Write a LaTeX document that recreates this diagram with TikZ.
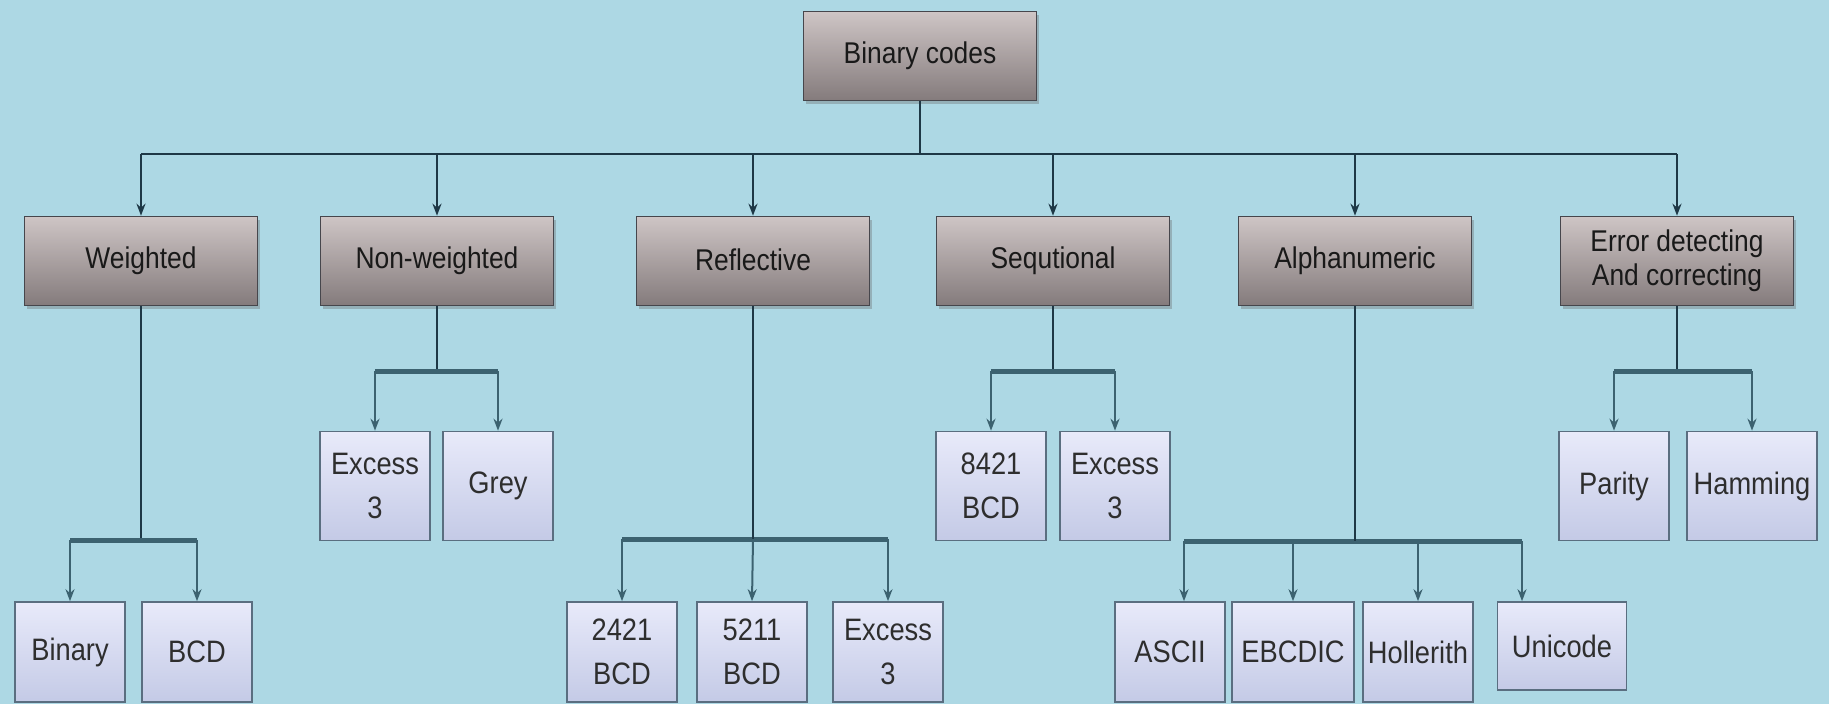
\documentclass[tikz,border=0pt]{standalone}
\usepackage{fontspec}
\setmainfont{Liberation Sans}[FakeStretch=0.88]
\usetikzlibrary{arrows.meta,shadows}

\definecolor{bgblue}{RGB}{173,216,228}
\definecolor{catTop}{RGB}{206,197,197}
\definecolor{catBot}{RGB}{132,123,124}
\definecolor{catLine}{RGB}{70,70,76}
\definecolor{leafTop}{RGB}{232,234,250}
\definecolor{leafBot}{RGB}{196,202,230}
\definecolor{leafLine}{RGB}{90,110,128}
\definecolor{busCol}{RGB}{30,56,70}
\definecolor{subCol}{RGB}{60,98,112}

\tikzset{
  catbox/.style={draw=catLine, line width=1.6pt, top color=catTop, bottom color=catBot,
    minimum width=233pt, minimum height=89pt, inner sep=2pt, align=center,
    font=\fontsize{30}{36}\selectfont, text=black!90,
    drop shadow={shadow xshift=2pt, shadow yshift=-3pt, fill=black!60, opacity=.35}},
  leafbox/.style={draw=leafLine, line width=1.6pt, top color=leafTop, bottom color=leafBot,
    minimum width=110pt, minimum height=100pt, inner sep=1pt, align=center,
    font=\fontsize{31}{44}\selectfont, text=black!82},
  midleaf/.style={leafbox, minimum height=109pt},
  busline/.style={draw=busCol, line width=2.4pt},
  subbus/.style={draw=subCol, line width=5pt},
  drop/.style={draw=busCol, line width=2pt, -{Stealth[length=12pt,width=9pt]}},
  subdrop/.style={draw=subCol, line width=2pt, -{Stealth[length=12pt,width=9pt]}}
}

\begin{document}
\begin{tikzpicture}[x=1pt,y=-1pt]
\fill[bgblue] (0,0) rectangle (1829,704);
\useasboundingbox (0,0) rectangle (1829,704);

% top level
\node (root) at (920,56) [catbox] {Binary codes};
\coordinate (busL) at (141,154);
\coordinate (busR) at (1677,154);
\draw[busline] (root.south) -- (root.south |- busL);
\draw[busline] (busL) -- (busR);

% code families
\node (wt) at (141,261) [catbox] {Weighted};
\node (nw) at (437,261) [catbox] {Non-weighted};
\node (rf) at (753,261) [catbox, text depth=0.25em] {Reflective};
\node (sq) at (1053,261) [catbox] {Sequtional};
\node (al) at (1355,261) [catbox] {Alphanumeric};
\node (er) at (1677,261) [catbox, font=\fontsize{30}{34}\selectfont] {Error detecting\\And correcting};
\foreach \n in {wt,nw,rf,sq,al,er}
  \draw[drop] (\n |- busL) -- (\n.north);

% weighted
\node (wtA) at (70,652) [leafbox] {Binary};
\node (wtB) at (197,652) [leafbox] {BCD};
\coordinate (wtJ) at (141,540);
\draw[busline] (wt.south) -- (wtJ);
\draw[subbus] (wtA |- wtJ) -- (wtB |- wtJ);
\draw[subdrop] (wtA |- wtJ) -- (wtA.north);
\draw[subdrop] (wtB |- wtJ) -- (wtB.north);

% non-weighted
\node (nwA) at (375,486) [midleaf] {Excess\\3};
\node (nwB) at (498,486) [midleaf] {Grey};
\coordinate (nwJ) at (437,371);
\draw[busline] (nw.south) -- (nwJ);
\draw[subbus] (nwA |- nwJ) -- (nwB |- nwJ);
\draw[subdrop] (nwA |- nwJ) -- (nwA.north);
\draw[subdrop] (nwB |- nwJ) -- (nwB.north);

% reflective
\node (rfA) at (622,652) [leafbox] {2421\\BCD};
\node (rfB) at (752,652) [leafbox] {5211\\BCD};
\node (rfC) at (888,652) [leafbox] {Excess\\3};
\coordinate (rfJ) at (753,539);
\draw[subbus] (rfA |- rfJ) -- (rfC |- rfJ);
\draw[busline] (rf.south) -- (rfJ);
\draw[subdrop] (rfA |- rfJ) -- (rfA.north);
\draw[subdrop] (rfJ) -- (rfB.north);
\draw[subdrop] (rfC |- rfJ) -- (rfC.north);

% sequtional
\node (sqA) at (991,486) [midleaf] {8421\\BCD};
\node (sqB) at (1115,486) [midleaf] {Excess\\3};
\coordinate (sqJ) at (1053,371);
\draw[busline] (sq.south) -- (sqJ);
\draw[subbus] (sqA |- sqJ) -- (sqB |- sqJ);
\draw[subdrop] (sqA |- sqJ) -- (sqA.north);
\draw[subdrop] (sqB |- sqJ) -- (sqB.north);

% alphanumeric
\node (alA) at (1170,652) [leafbox] {ASCII};
\node (alB) at (1293,652) [leafbox, minimum width=122pt] {EBCDIC};
\node (alC) at (1418,652) [leafbox] {Hollerith};
\node (alD) at (1562,646) [leafbox, minimum width=129pt, minimum height=88pt] {Unicode};
\coordinate (alJ) at (1355,541);
\coordinate (alJ1) at (1184,541);
\coordinate (alJ4) at (1522,541);
\draw[subbus] (alJ1) -- (alJ4);
\draw[busline] (al.south) -- (alJ);
\draw[subdrop] (alJ1) -- (alJ1 |- alA.north);
\draw[subdrop] (alB |- alJ) -- (alB.north);
\draw[subdrop] (alC |- alJ) -- (alC.north);
\draw[subdrop] (alJ4) -- (alJ4 |- alD.north);

% error detecting
\node (erA) at (1614,486) [midleaf] {Parity};
\node (erB) at (1752,486) [midleaf, minimum width=130pt] {Hamming};
\coordinate (erJ) at (1677,371);
\draw[busline] (er.south) -- (erJ);
\draw[subbus] (erA |- erJ) -- (erB |- erJ);
\draw[subdrop] (erA |- erJ) -- (erA.north);
\draw[subdrop] (erB |- erJ) -- (erB.north);
\end{tikzpicture}
\end{document}
